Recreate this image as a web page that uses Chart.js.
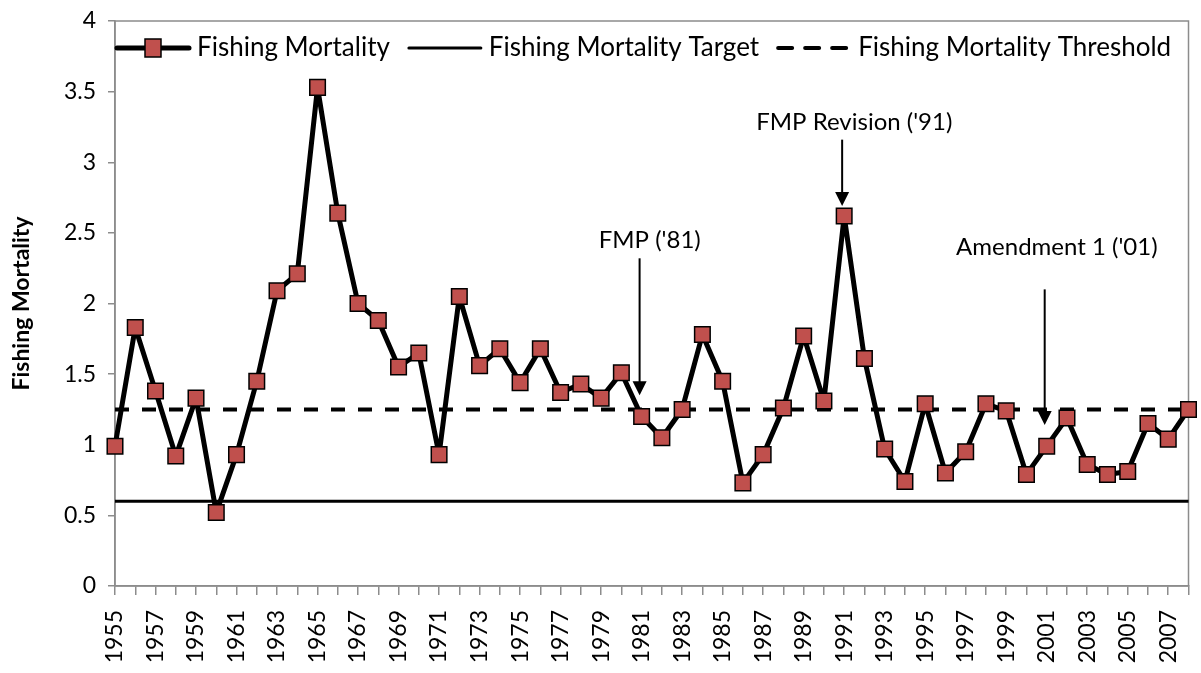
<!DOCTYPE html>
<html>
<head>
<meta charset="utf-8">
<script src="https://cdn.jsdelivr.net/npm/chart.js@4/dist/chart.umd.min.js"></script>
<style>
  html, body { margin: 0; padding: 0; background: #fff; }
  #wrap { width: 1201px; height: 673px; }
</style>
</head>
<body>
<div id="wrap"><canvas id="fmChart" width="1201" height="673"></canvas></div>
<script>
const years = [];
for (let y = 1955; y <= 2008; y++) years.push(String(y));

const fishingMortality = [
  0.99, 1.83, 1.38, 0.92, 1.33, 0.52, 0.93, 1.45, 2.09, 2.21,
  3.53, 2.64, 2.00, 1.88, 1.55, 1.65, 0.93, 2.05, 1.56, 1.68,
  1.44, 1.68, 1.37, 1.43, 1.33, 1.51, 1.20, 1.05, 1.25, 1.78,
  1.45, 0.73, 0.93, 1.26, 1.77, 1.31, 2.62, 1.61, 0.97, 0.74,
  1.29, 0.80, 0.95, 1.29, 1.24, 0.79, 0.99, 1.19, 0.86, 0.79,
  0.81, 1.15, 1.04, 1.25
];
const targetValue = 0.6;
const thresholdValue = 1.25;

const seriesNames = ['Fishing Mortality', 'Fishing Mortality Target', 'Fishing Mortality Threshold'];

// annotation text + arrow (x in category index, y in data units)
const notes = [
  { text: "FMP ('81)", textX: 26.4, textY: 2.45, arrowX: 25.9, arrowTop: 2.32, arrowTip: 1.35 },
  { text: "FMP Revision ('91)", textX: 36.5, textY: 3.28, arrowX: 35.9, arrowTop: 3.16, arrowTip: 2.69 },
  { text: "Amendment 1 ('01)", textX: 46.5, textY: 2.40, arrowX: 45.9, arrowTop: 2.10, arrowTip: 1.14 }
];

const FONT = 'Lato, "Open Sans", sans-serif';
const MARKER = '#C0504D';
const AXIS_GRAY = '#8c8c8c';

const frame = {
  id: 'frame',
  beforeDatasetsDraw(chart) {
    const { ctx, chartArea: a } = chart;
    ctx.save();
    ctx.strokeStyle = AXIS_GRAY;
    ctx.lineWidth = 1.5;
    ctx.strokeRect(a.left, a.top, a.right - a.left, a.bottom - a.top);
    ctx.restore();
  }
};

const notesPlugin = {
  id: 'notes',
  afterDatasetsDraw(chart) {
    const { ctx } = chart;
    const xs = chart.scales.x, ys = chart.scales.y;
    ctx.save();
    ctx.fillStyle = '#000';
    ctx.strokeStyle = '#000';
    ctx.font = '24px ' + FONT;
    ctx.textAlign = 'center';
    ctx.textBaseline = 'middle';
    notes.forEach(n => {
      ctx.fillText(n.text, xs.getPixelForValue(n.textX), ys.getPixelForValue(n.textY));
      const ax = xs.getPixelForValue(n.arrowX);
      const top = ys.getPixelForValue(n.arrowTop);
      const tip = ys.getPixelForValue(n.arrowTip);
      ctx.lineWidth = 2;
      ctx.beginPath();
      ctx.moveTo(ax, top);
      ctx.lineTo(ax, tip - 10);
      ctx.stroke();
      ctx.beginPath();
      ctx.moveTo(ax - 7, tip - 14);
      ctx.lineTo(ax + 7, tip - 14);
      ctx.lineTo(ax, tip);
      ctx.closePath();
      ctx.fill();
    });
    ctx.restore();
  }
};

const legendPlugin = {
  id: 'innerLegend',
  afterDraw(chart) {
    const { ctx, chartArea: a } = chart;
    const y = a.top + 27;
    ctx.save();
    ctx.font = '26px ' + FONT;
    ctx.textBaseline = 'middle';
    ctx.fillStyle = '#000';
    let x = a.left + 2;
    chart.data.datasets.forEach((ds, i) => {
      const w = 72;
      ctx.strokeStyle = '#000';
      ctx.lineWidth = ds.borderWidth;
      ctx.setLineDash(ds.borderDash || []);
      ctx.lineCap = 'round';
      ctx.beginPath();
      ctx.moveTo(x, y);
      ctx.lineTo(x + w, y);
      ctx.stroke();
      ctx.setLineDash([]);
      if (i === 0) {
        ctx.fillStyle = MARKER;
        ctx.lineWidth = 1.5;
        ctx.fillRect(x + w / 2 - 8, y - 9, 16, 18);
        ctx.strokeRect(x + w / 2 - 8, y - 9, 16, 18);
      }
      ctx.fillStyle = '#000';
      ctx.fillText(ds.label, x + w + 8, y);
      x += w + 8 + ctx.measureText(ds.label).width + 19;
    });
    ctx.restore();
  }
};

new Chart(document.getElementById('fmChart').getContext('2d'), {
  type: 'line',
  data: {
    labels: years,
    datasets: [
      {
        label: seriesNames[0],
        data: fishingMortality,
        borderColor: '#000',
        borderWidth: 5,
        borderJoinStyle: 'round',
        tension: 0,
        pointStyle: 'rect',
        pointRadius: 11,
        pointBackgroundColor: MARKER,
        pointBorderColor: '#000',
        pointBorderWidth: 1.5,
        order: 0
      },
      {
        label: seriesNames[1],
        data: [{ x: years[0], y: targetValue }, { x: years[years.length - 1], y: targetValue }],
        borderColor: '#000',
        borderWidth: 3,
        pointRadius: 0,
        order: 2
      },
      {
        label: seriesNames[2],
        data: [{ x: years[0], y: thresholdValue }, { x: years[years.length - 1], y: thresholdValue }],
        borderColor: '#000',
        borderWidth: 4,
        borderDash: [14, 13],
        pointRadius: 0,
        order: 1
      }
    ]
  },
  options: {
    responsive: false,
    animation: false,
    layout: { padding: { top: 21, right: 4, left: 0, bottom: 0 } },
    plugins: {
      legend: { display: false },
      tooltip: { enabled: false }
    },
    scales: {
      x: {
        offset: false,
        grid: { drawOnChartArea: false, drawTicks: true, tickLength: 9, color: AXIS_GRAY, lineWidth: 1.5 },
        border: { color: AXIS_GRAY, width: 1.5 },
        ticks: {
          autoSkip: false,
          maxRotation: 90,
          minRotation: 90,
          color: '#000',
          padding: 15,
          font: { family: FONT, size: 23 },
          callback: (v, i) => (i % 2 === 0 ? years[i] : '')
        },
        afterFit: s => { s.height = 87; s.paddingLeft = 0; s.paddingRight = 0; }
      },
      y: {
        min: 0,
        max: 4,
        grid: { drawOnChartArea: false, drawTicks: true, tickLength: 7, color: AXIS_GRAY, lineWidth: 1.5 },
        border: { color: AXIS_GRAY, width: 1.5 },
        ticks: {
          stepSize: 0.5,
          color: '#000',
          padding: 12,
          font: { family: FONT, size: 23 },
          callback: v => String(v)
        },
        title: {
          display: true,
          text: 'Fishing Mortality',
          color: '#000',
          font: { family: FONT, size: 23, weight: 'bold' },
          padding: { top: 8, bottom: 0 }
        },
        afterFit: s => { s.width = 115; s.paddingTop = 0; s.paddingBottom = 0; }
      }
    }
  },
  plugins: [frame, notesPlugin, legendPlugin]
});
</script>
</body>
</html>
